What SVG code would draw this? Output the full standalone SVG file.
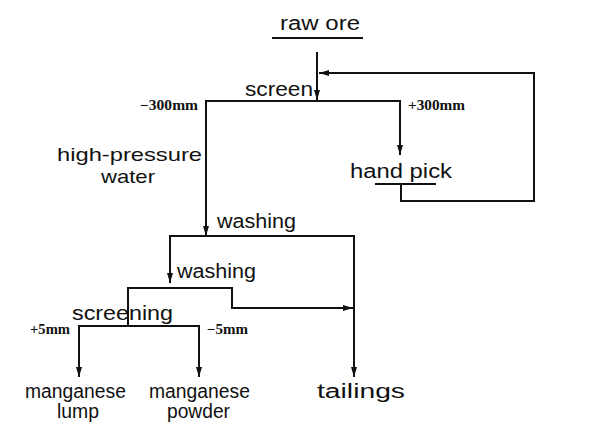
<svg xmlns="http://www.w3.org/2000/svg" width="594" height="435" viewBox="0 0 594 435">
<style>
.t{font-family:"Liberation Sans","DejaVu Sans",sans-serif;font-size:20px;fill:#111}
.s{font-family:"Liberation Serif","Times New Roman",serif;font-weight:bold;font-size:14px;fill:#111}
.l{stroke:#111;stroke-width:2;fill:none}
</style>
<defs>
<marker id="a" viewBox="0 0 10 6" refX="10" refY="3" markerWidth="10" markerHeight="6" markerUnits="userSpaceOnUse" orient="auto">
<path d="M0,0 L10,3 L0,6 Z" fill="#111"/>
</marker>
</defs>
<g id="connectors">
<line class="l" x1="272" y1="38" x2="363" y2="38"/>
<line class="l" x1="317" y1="52" x2="317" y2="100" marker-end="url(#a)"/>
<polyline class="l" points="401,184 401,201 534,201 534,73 319,73" marker-end="url(#a)"/>
<line class="l" x1="375" y1="184" x2="436" y2="184"/>
<polyline class="l" points="206,235 206,101 400,101 400,155" marker-end="url(#a)"/>
<line class="l" x1="206" y1="130" x2="206" y2="236" marker-end="url(#a)"/>
<polyline class="l" points="170,282 170,236 354,236 354,377" marker-end="url(#a)"/>
<line class="l" x1="170" y1="250" x2="170" y2="283" marker-end="url(#a)"/>
<polyline class="l" points="128,326 128,288 232,288 232,308 353,308" marker-end="url(#a)"/>
<polyline class="l" points="79,377 79,326 199,326 199,377" marker-end="url(#a)"/>
<line class="l" x1="79" y1="340" x2="79" y2="377" marker-end="url(#a)"/>
</g>
<g id="raw-ore"><text class="t" x="280" y="30" textLength="80" lengthAdjust="spacingAndGlyphs">raw ore</text></g>
<g id="screen"><text class="t" x="245" y="96" textLength="68" lengthAdjust="spacingAndGlyphs">screen</text></g>
<g id="label-minus300"><text class="s" x="140" y="110" textLength="58" lengthAdjust="spacingAndGlyphs">−300mm</text></g>
<g id="label-plus300"><text class="s" x="408" y="110" textLength="57" lengthAdjust="spacingAndGlyphs">+300mm</text></g>
<g id="water"><text class="t" style="font-size:19px" x="57" y="161" textLength="145" lengthAdjust="spacingAndGlyphs">high-pressure</text><text class="t" style="font-size:19px" x="101" y="183" textLength="54" lengthAdjust="spacingAndGlyphs">water</text></g>
<g id="hand-pick"><text class="t" x="350" y="178" textLength="102" lengthAdjust="spacingAndGlyphs">hand pick</text></g>
<g id="washing1"><text class="t" x="217" y="228" textLength="79" lengthAdjust="spacingAndGlyphs">washing</text></g>
<g id="washing2"><text class="t" x="177" y="278" textLength="79" lengthAdjust="spacingAndGlyphs">washing</text></g>
<g id="screening"><text class="t" x="72" y="320" textLength="101" lengthAdjust="spacingAndGlyphs">screening</text></g>
<g id="label-plus5"><text class="s" x="30" y="334" textLength="40" lengthAdjust="spacingAndGlyphs">+5mm</text></g>
<g id="label-minus5"><text class="s" x="207" y="334" textLength="41" lengthAdjust="spacingAndGlyphs">−5mm</text></g>
<g id="manganese-lump"><text class="t" x="25" y="398" textLength="101" lengthAdjust="spacingAndGlyphs">manganese</text><text class="t" x="57" y="418" textLength="42" lengthAdjust="spacingAndGlyphs">lump</text></g>
<g id="manganese-powder"><text class="t" x="149" y="398" textLength="101" lengthAdjust="spacingAndGlyphs">manganese</text><text class="t" x="167" y="418" textLength="63" lengthAdjust="spacingAndGlyphs">powder</text></g>
<g id="tailings"><text class="t" x="317" y="398" textLength="88" lengthAdjust="spacingAndGlyphs">tailings</text></g>
</svg>
